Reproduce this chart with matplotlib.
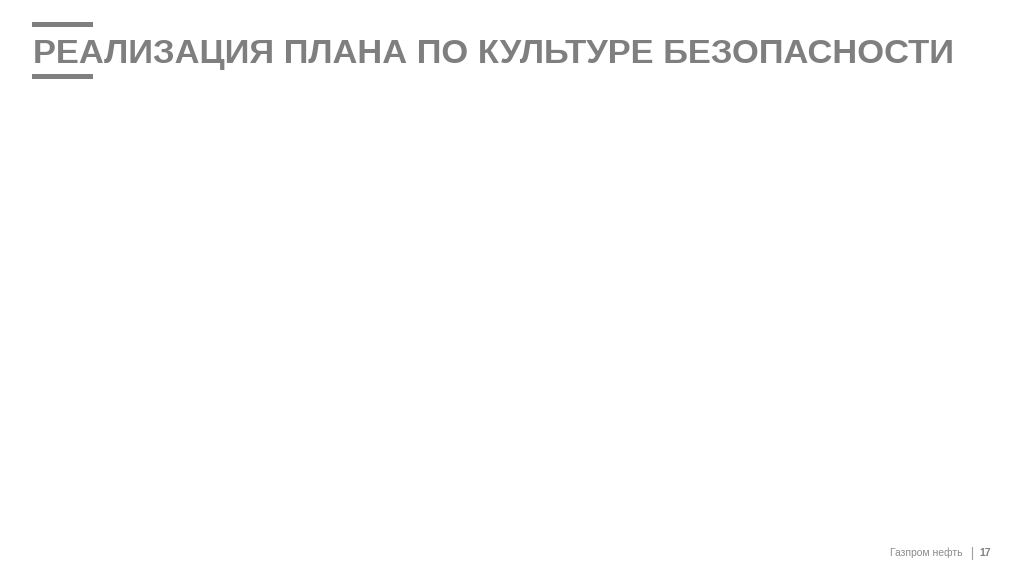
import matplotlib
matplotlib.use('Agg')
import matplotlib.pyplot as plt

title = 'РЕАЛИЗАЦИЯ ПЛАНА ПО КУЛЬТУРЕ БЕЗОПАСНОСТИ'
company = 'Газпром нефть'
page = '17'
grey = '#7f7f7f'

W, H = 1024, 574
fig = plt.figure(figsize=(W / 100, H / 100), dpi=100)
fig.patch.set_facecolor('white')
ax = fig.add_axes([0, 0, 1, 1])
ax.set_xlim(0, W)
ax.set_ylim(H, 0)
ax.axis('off')

# accent bars around the title
ax.fill_between([32, 93], 22, 27, color=grey, lw=0)
ax.fill_between([32, 93], 74, 79, color=grey, lw=0)

ax.text(33, 63, title, fontsize=24.8, fontweight='bold', color=grey,
        family='Liberation Sans', va='baseline', ha='left')

# footer
ax.text(963, 556.5, company, fontsize=7.5, color='#8c8c8c',
        family='Liberation Sans', va='baseline', ha='right')
ax.plot([971.5, 971.5], [547, 559], color='#a0a0a0', lw=0.8)
ax.text(979, 556.5, page, fontsize=7.5, fontweight='bold', color='#808080',
        family='Liberation Sans', va='baseline', ha='left')

plt.savefig('out.png', dpi=100, facecolor='white')
